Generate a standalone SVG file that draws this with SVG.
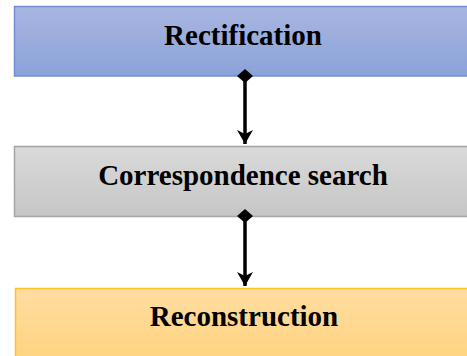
<svg xmlns="http://www.w3.org/2000/svg" width="467" height="356" viewBox="0 0 467 356">
  <style>
    .label { font-family: "Liberation Serif", "Times New Roman", serif; font-weight: bold; font-size: 29px; fill: #000; text-anchor: middle; }
    .conn { stroke: #000; stroke-width: 3.5; fill: none; }
  </style>
  <defs>
    <linearGradient id="gBlue" x1="0" y1="0" x2="0" y2="1">
      <stop offset="0" stop-color="#A9B6E1"/>
      <stop offset="1" stop-color="#8BA2D9"/>
    </linearGradient>
    <linearGradient id="gGray" x1="0" y1="0" x2="0" y2="1">
      <stop offset="0" stop-color="#DADADA"/>
      <stop offset="1" stop-color="#C6C6C6"/>
    </linearGradient>
    <linearGradient id="gYellow" x1="0" y1="0" x2="0" y2="1">
      <stop offset="0" stop-color="#FFDDA1"/>
      <stop offset="1" stop-color="#FFD27C"/>
    </linearGradient>
    <marker id="diamond" viewBox="0 0 14 16" refX="7" refY="8" markerWidth="14" markerHeight="16" markerUnits="userSpaceOnUse" orient="auto">
      <path d="M0,8 L7,0 L14,8 L7,16 Z" fill="#000"/>
    </marker>
    <marker id="arrow" viewBox="0 0 14 16" refX="14" refY="8" markerWidth="14" markerHeight="16" markerUnits="userSpaceOnUse" orient="auto">
      <path d="M0,0 L14,8 L0,16 L4,8 Z" fill="#000"/>
    </marker>
  </defs>

  <g id="rectification">
    <rect x="14.5" y="6.5" width="460" height="69.5" fill="url(#gBlue)" stroke="#6F8ED6" stroke-width="1.5"/>
    <text class="label" x="243" y="44.5">Rectification</text>
  </g>

  <g id="correspondence">
    <rect x="14.5" y="146.5" width="460" height="70" fill="url(#gGray)" stroke="#A5A5A5" stroke-width="1.5"/>
    <text class="label" x="243" y="185">Correspondence search</text>
  </g>

  <g id="reconstruction">
    <rect x="15.5" y="288.5" width="460" height="80" fill="url(#gYellow)" stroke="#FFC125" stroke-width="1.5"/>
    <text class="label" x="244" y="325.5">Reconstruction</text>
  </g>

  <g id="connectors">
    <line class="conn" x1="245" y1="76" x2="245" y2="144" marker-start="url(#diamond)" marker-end="url(#arrow)"/>
    <line class="conn" x1="245" y1="216" x2="245" y2="286" marker-start="url(#diamond)" marker-end="url(#arrow)"/>
  </g>
</svg>
